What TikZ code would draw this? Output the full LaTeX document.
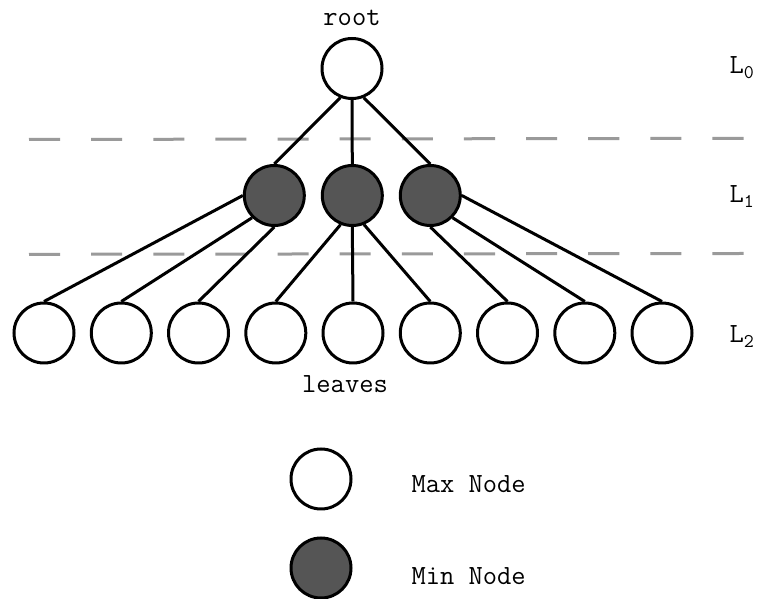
\documentclass[tikz,border=0pt]{standalone}
\usepackage{fontspec}
\definecolor{minfill}{HTML}{555555}
\definecolor{levelgray}{HTML}{9A9A9A}
\begin{document}
\begin{tikzpicture}[x=0.75pt,y=0.75pt,inner sep=0pt,line width=2.25pt,
        font=\ttfamily\fontsize{20.8}{23}\selectfont,
        maxnode/.style={draw,circle,fill=white,minimum size=45pt},
        minnode/.style={draw,circle,fill=minfill,minimum size=45pt},
        levelsep/.style={levelgray,dash pattern=on 23.3pt off 23.3pt}]
        \useasboundingbox (0,0) rectangle (760,599);
        % \draw[help lines] (0,0) grid (760,599);
        \draw[levelsep] (29,459.5) -- (745,460.7);
        \draw[levelsep] (29,344.7) -- (745,345.5);
        \node[maxnode] (root) at (352,530.5) {};
        \node[minnode] (m1) at (274.3,403.5) {};
        \node[minnode] (m2) at (352.3,403.5) {};
        \node[minnode] (m3) at (430.3,403.5) {};
        \node[maxnode] (l1) at (44,266) {};
        \node[maxnode] (l2) at (121.3,266) {};
        \node[maxnode] (l3) at (198.5,266) {};
        \node[maxnode] (l4) at (275.8,266) {};
        \node[maxnode] (l5) at (353,266) {};
        \node[maxnode] (l6) at (430.3,266) {};
        \node[maxnode] (l7) at (507.5,266) {};
        \node[maxnode] (l8) at (584.8,266) {};
        \node[maxnode] (l9) at (662,266) {};
        \draw (root.-112) -- (m1.north) (root.south) -- (m2.north) (root.-68) -- (m3.north);
        \draw (m1.west) -- (l1.north) (m1.-135) -- (l2.north) (m1.south) -- (l3.north);
        \draw (m2.-112) -- (l4.north) (m2.south) -- (l5.north) (m2.-68) -- (l6.north);
        \draw (m3.south) -- (l7.north) (m3.-45) -- (l8.north) (m3.east) -- (l9.north);
        \node[anchor=base] (rootname) at (352,573.5) {root};
        \node[anchor=base] (leavesname) at (345,206) {leaves};
        \node[anchor=base west] (lev0) at (728,525) {L\textsubscript{0}};
        \node[anchor=base west] (lev1) at (728,396) {L\textsubscript{1}};
        \node[anchor=base west] (lev2) at (728,256) {L\textsubscript{2}};
        % legend
        \node[maxnode] (maxkey) at (321,120) {};
        \node[minnode] (minkey) at (321,31) {};
        \node[anchor=base west] (maxtext) at (410,106) {Max Node};
        \node[anchor=base west] (mintext) at (410,14) {Min Node};
   \end{tikzpicture}
\end{document}
